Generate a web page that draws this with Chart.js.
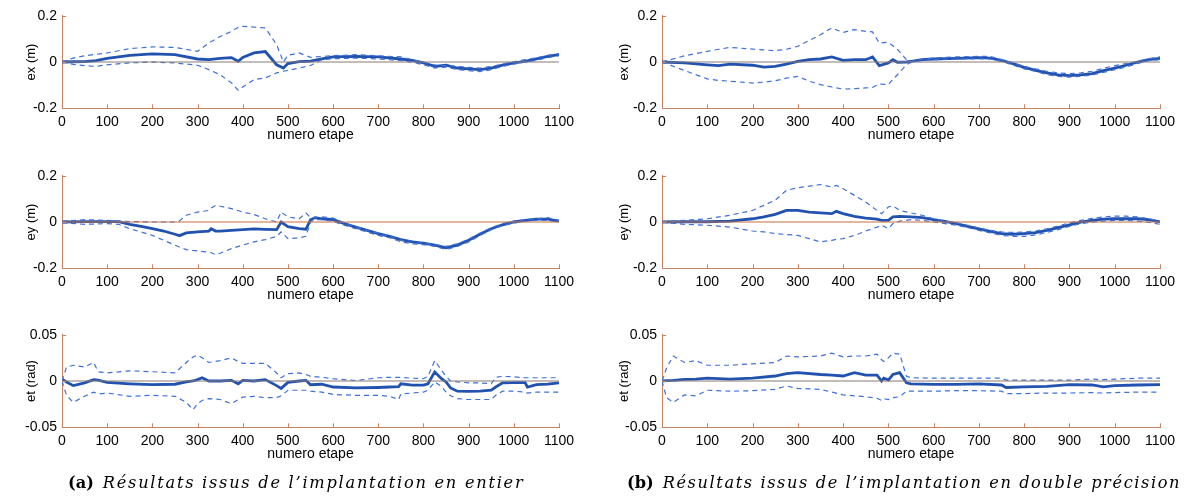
<!DOCTYPE html>
<html>
<head>
<meta charset="utf-8">
<script src="https://cdn.jsdelivr.net/npm/chart.js@4.4.1/dist/chart.umd.min.js"></script>
<style>
  body { margin: 0; background: #fff; width: 1188px; height: 497px; position: relative; overflow: hidden; }
  canvas { position: absolute; }
  .caption { position: absolute; top: 473px; font-family: "DejaVu Serif", "Liberation Serif", serif; font-size: 16.2px; color: #000; white-space: nowrap; }
  .caption b { font-style: normal; font-weight: bold; margin-right: 9px; }
  .caption i { letter-spacing: 1.75px; }
  #cap_b i { letter-spacing: 1.6px; }
</style>
</head>
<body>
<canvas id="a_ex" width="594" height="160" style="left:0;top:0"></canvas>
<canvas id="a_ey" width="594" height="160" style="left:0;top:160px"></canvas>
<canvas id="a_et" width="594" height="160" style="left:0;top:319px"></canvas>
<canvas id="b_ex" width="594" height="160" style="left:594px;top:0"></canvas>
<canvas id="b_ey" width="594" height="160" style="left:594px;top:160px"></canvas>
<canvas id="b_et" width="594" height="160" style="left:594px;top:319px"></canvas>
<div class="caption" style="left:68px"><b>(a)</b><i>Résultats issus de l’implantation en entier</i></div>
<div class="caption" id="cap_b" style="left:627px"><b>(b)</b><i>Résultats issus de l’implantation en double précision</i></div>

<script>
// ---- (a) implantation en entier ----
const a_ex_steps = [0,25,50,75,100,150,200,250,300,325,350,375,390,400,425,450,475,490,500,525,550,575,600,650,700,750,775,800,825,850,875,900,925,950,975,1000,1025,1050,1075,1100];
const a_ex_est = [0,0.001,0.002,0.006,0.016,0.029,0.035,0.032,0.013,0.01,0.016,0.019,0.003,0.02,0.039,0.045,-0.012,-0.026,-0.007,0.002,0.004,0.014,0.022,0.024,0.022,0.013,0.007,-0.004,-0.019,-0.014,-0.026,-0.03,-0.033,-0.026,-0.014,-0.004,0.003,0.013,0.024,0.032];
const a_ex_hi = [0,0.017,0.027,0.033,0.039,0.058,0.065,0.063,0.046,0.082,0.11,0.132,0.15,0.154,0.151,0.147,0.075,0,0.029,0.039,0.02,0.024,0.027,0.032,0.027,0.022,0.01,-0.001,-0.013,-0.015,-0.019,-0.023,-0.026,-0.019,-0.009,0.001,0.01,0.018,0.029,0.036];
const a_ex_lo = [0,-0.01,-0.016,-0.019,-0.012,-0.004,0,-0.004,-0.014,-0.033,-0.055,-0.09,-0.122,-0.108,-0.076,-0.069,-0.047,-0.04,-0.036,-0.026,-0.015,0.01,0.014,0.017,0.013,0.006,-0.001,-0.012,-0.026,-0.022,-0.033,-0.037,-0.042,-0.033,-0.019,-0.009,0,0.007,0.019,0.027];

const a_ey_steps = [0,50,100,125,150,175,200,225,250,260,275,300,325,330,340,350,375,400,425,450,475,485,500,525,540,550,560,575,600,625,650,675,700,725,750,775,800,825,850,875,900,925,950,975,1000,1025,1050,1075,1100];
const a_ey_est = [0,0.002,0.002,0.002,-0.01,-0.019,-0.029,-0.039,-0.053,-0.059,-0.047,-0.043,-0.04,-0.029,-0.039,-0.039,-0.036,-0.033,-0.03,-0.032,-0.033,0,-0.02,-0.029,-0.031,0.01,0.019,0.014,0.01,-0.007,-0.022,-0.036,-0.05,-0.062,-0.076,-0.086,-0.091,-0.1,-0.112,-0.1,-0.079,-0.053,-0.029,-0.012,0,0.007,0.012,0.012,0.004];
const a_ey_hi = [0.003,0.01,0.007,0.004,0.002,0.001,0,0,0,0.005,0.029,0.043,0.05,0.06,0.072,0.068,0.058,0.043,0.032,0.014,0,0.043,0.022,0.014,0.039,0.019,0.02,0.022,0.017,-0.004,-0.022,-0.036,-0.048,-0.062,-0.079,-0.082,-0.091,-0.098,-0.105,-0.094,-0.074,-0.048,-0.025,-0.007,0.004,0.01,0.014,0.019,0.007];
const a_ey_lo = [-0.003,-0.01,-0.007,-0.01,-0.029,-0.043,-0.058,-0.079,-0.1,-0.108,-0.119,-0.125,-0.13,-0.133,-0.141,-0.135,-0.115,-0.1,-0.086,-0.076,-0.062,-0.043,-0.072,-0.068,-0.062,0,0.01,0.01,0.003,-0.014,-0.029,-0.043,-0.058,-0.068,-0.086,-0.094,-0.098,-0.105,-0.119,-0.105,-0.086,-0.059,-0.033,-0.016,-0.004,0.003,0.007,0.007,-0.001];

const a_et_steps = [0,10,25,50,70,80,100,150,200,250,275,290,300,310,325,350,375,390,400,425,450,475,485,500,525,540,550,575,600,650,700,725,745,750,775,800,810,825,840,850,860,875,900,925,950,960,975,1000,1025,1030,1050,1075,1100];
const a_et_est = [0.002,-0.001,-0.005,-0.002,0.0015,0.001,-0.0015,-0.003,-0.004,-0.0035,-0.001,0,0.0015,0.0035,0,0,0.0007,-0.003,0.0007,0,0.0015,-0.005,-0.008,-0.0015,0,0.0007,-0.004,-0.0035,-0.0065,-0.0075,-0.007,-0.0065,-0.006,-0.003,-0.0045,-0.0045,-0.003,0.0098,0.0025,-0.001,-0.0075,-0.011,-0.0113,-0.011,-0.01,-0.0065,-0.002,-0.0018,-0.0018,-0.0065,-0.004,-0.0033,-0.002];
const a_et_hi = [0,0.015,0.017,0.015,0.02,0.01,0.0087,0.011,0.01,0.0087,0.02,0.026,0.028,0.025,0.02,0.022,0.025,0.021,0.019,0.019,0.019,0.0087,0.0035,0.008,0.0087,0.007,0.005,0.004,0.0025,0.0005,0.0035,0.004,0.004,0.004,0.003,0.0025,0.005,0.022,0.0115,0.005,0,-0.001,-0.002,-0.002,-0.003,0.004,0.005,0.0045,0.0035,0.0035,0.0035,0.0035,0.0035];
const a_et_lo = [0,-0.0155,-0.023,-0.0165,-0.012,-0.014,-0.013,-0.0165,-0.0155,-0.0165,-0.023,-0.031,-0.0245,-0.021,-0.019,-0.02,-0.0245,-0.02,-0.0175,-0.0165,-0.018,-0.018,-0.016,-0.01,-0.01,-0.01,-0.011,-0.012,-0.0145,-0.0155,-0.0155,-0.0165,-0.02,-0.014,-0.013,-0.012,-0.01,-0.001,-0.006,-0.012,-0.016,-0.019,-0.02,-0.02,-0.02,-0.0155,-0.011,-0.011,-0.012,-0.013,-0.012,-0.012,-0.012];

// ---- (b) implantation en double precision ----
const b_ex_steps = [0,50,100,125,150,200,225,250,275,300,325,350,375,400,425,450,465,480,500,510,520,540,550,575,600,650,700,725,750,775,800,825,850,875,900,925,950,975,1000,1025,1050,1075,1100];
const b_ex_est = [0,-0.004,-0.012,-0.016,-0.009,-0.014,-0.022,-0.019,-0.009,0.003,0.01,0.013,0.022,0.007,0.01,0.01,0.022,-0.016,-0.004,0.01,-0.001,0,0.003,0.01,0.013,0.016,0.019,0.017,0.007,-0.007,-0.023,-0.036,-0.047,-0.056,-0.059,-0.056,-0.05,-0.037,-0.026,-0.014,-0.001,0.01,0.016];
const b_ex_hi = [0,0.027,0.046,0.055,0.063,0.056,0.052,0.049,0.055,0.068,0.093,0.118,0.147,0.128,0.14,0.132,0.13,0.082,0.085,0.07,0.055,0.01,0.003,0.013,0.017,0.022,0.024,0.024,0.01,-0.004,-0.019,-0.03,-0.04,-0.047,-0.05,-0.047,-0.04,-0.027,-0.016,-0.007,0.003,0.014,0.022];
const b_ex_lo = [0,-0.037,-0.073,-0.08,-0.083,-0.091,-0.087,-0.081,-0.07,-0.062,-0.083,-0.098,-0.108,-0.117,-0.115,-0.112,-0.11,-0.095,-0.098,-0.075,-0.055,-0.012,-0.002,0.007,0.01,0.013,0.014,0.013,0.003,-0.013,-0.03,-0.04,-0.055,-0.062,-0.065,-0.062,-0.056,-0.045,-0.033,-0.022,-0.007,0.006,0.01];

const b_ey_steps = [0,50,100,150,200,225,250,275,300,325,350,375,385,400,425,450,475,485,500,510,525,550,575,600,625,650,675,700,725,750,775,800,825,850,875,900,925,950,975,1000,1025,1050,1075,1100];
const b_ey_est = [0,0.001,0.001,0.004,0.014,0.022,0.033,0.05,0.05,0.043,0.039,0.036,0.046,0.036,0.024,0.017,0.012,0.007,0.007,0.022,0.024,0.022,0.019,0.01,0.003,-0.007,-0.019,-0.03,-0.04,-0.05,-0.053,-0.05,-0.046,-0.036,-0.024,-0.012,-0.001,0.007,0.012,0.014,0.014,0.014,0.01,0];
const b_ey_hi = [0.001,0.007,0.014,0.029,0.05,0.072,0.094,0.137,0.148,0.155,0.162,0.151,0.158,0.144,0.115,0.086,0.05,0.036,0.065,0.07,0.05,0.039,0.029,0.014,0.004,-0.004,-0.014,-0.026,-0.036,-0.043,-0.045,-0.043,-0.039,-0.029,-0.017,-0.004,0.007,0.016,0.022,0.025,0.025,0.022,0.014,0.004];
const b_ey_lo = [-0.001,-0.01,-0.014,-0.022,-0.039,-0.043,-0.05,-0.054,-0.058,-0.072,-0.086,-0.079,-0.075,-0.072,-0.058,-0.039,-0.022,-0.014,-0.029,-0.007,0.004,0.01,0.007,0,-0.007,-0.014,-0.024,-0.036,-0.047,-0.058,-0.062,-0.062,-0.056,-0.045,-0.033,-0.019,-0.007,-0.001,0.004,0.007,0.007,0.004,-0.001,-0.01];

const b_et_steps = [0,10,25,50,75,100,150,200,250,275,300,350,375,400,425,450,475,485,490,500,510,525,540,550,600,650,700,750,760,800,850,900,950,975,1000,1050,1100];
const b_et_est = [0,0.0005,0.0007,0.0018,0.002,0.003,0.002,0.003,0.0054,0.008,0.009,0.007,0.0064,0.0054,0.009,0.0064,0.0064,0,0.003,0.001,0.007,0.009,-0.002,-0.003,-0.0036,-0.0036,-0.003,-0.0043,-0.007,-0.0064,-0.0057,-0.004,-0.0043,-0.0064,-0.005,-0.0043,-0.004];
const b_et_hi = [0,0.014,0.027,0.02,0.022,0.017,0.017,0.0186,0.02,0.027,0.026,0.027,0.03,0.026,0.027,0.027,0.029,0.023,0.021,0.025,0.03,0.029,0.005,0.0036,0.003,0.003,0.003,0.003,0.001,0.001,0.001,0.001,0.002,0.0015,0.002,0.003,0.003];
const b_et_lo = [0,-0.018,-0.023,-0.015,-0.016,-0.01,-0.011,-0.0105,-0.009,-0.0054,-0.008,-0.009,-0.012,-0.015,-0.016,-0.017,-0.0186,-0.021,-0.019,-0.02,-0.018,-0.017,-0.011,-0.011,-0.011,-0.0105,-0.0105,-0.011,-0.0136,-0.0136,-0.013,-0.013,-0.0125,-0.013,-0.0125,-0.012,-0.012];

const xTicksEnd = 1100;
const posRange = [-0.2, 0.2];
const angRange = [-0.05, 0.05];

// couleurs
const AXIS = '#c9825c';
const EST = '#2152b0';
const BOUND = '#3f70d6';
const ZERO_GRAY = '#8a7b74';
const ZERO_ORANGE = '#c8703e';
const FONT = '"Liberation Sans", Arial, Helvetica, sans-serif';

// petits traits de graduation vers l'interieur (style matlab)
const ticksIn = {
    id: 'ticksIn',
    afterDatasetsDraw(chart) {
        const { ctx, chartArea: a, scales: { x, y } } = chart;
        ctx.save();
        ctx.strokeStyle = AXIS;
        ctx.lineWidth = 1;
        ctx.beginPath();
        x.ticks.forEach(t => {
            const px = Math.round(x.getPixelForValue(t.value)) + 0.5;
            ctx.moveTo(px, a.bottom);
            ctx.lineTo(px, a.bottom - 4);
        });
        y.ticks.forEach(t => {
            const py = Math.round(y.getPixelForValue(t.value)) + 0.5;
            ctx.moveTo(a.left, py);
            ctx.lineTo(a.left + 4, py);
        });
        ctx.stroke();
        ctx.restore();
    }
};

const pts = (steps, vals) => steps.map((s, i) => ({ x: s, y: vals[i] }));
const fmt = v => String(+Number(v).toFixed(3));

function dessiner(id, cfg) {
    const left = cfg.side === 'a' ? 62 : 68;
    const right = cfg.side === 'a' ? 35 : 28;
    const plotH = 92.6;
    const top = 15.7;
    const h = document.getElementById(id).height;

    new Chart(document.getElementById(id), {
        type: 'line',
        data: {
            datasets: [
                { data: [{ x: 0, y: 0 }, { x: xTicksEnd, y: 0 }], borderColor: cfg.zero, borderWidth: 1.2 },
                { data: pts(cfg.steps, cfg.hi), borderColor: BOUND, borderWidth: 1.2, borderDash: [5, 4] },
                { data: pts(cfg.steps, cfg.lo), borderColor: BOUND, borderWidth: 1.2, borderDash: [5, 4] },
                { data: pts(cfg.steps, cfg.est), borderColor: EST, borderWidth: 2.8 }
            ]
        },
        options: {
            responsive: false,
            animation: false,
            events: [],
            elements: { point: { radius: 0 }, line: { tension: 0, fill: false } },
            layout: { padding: { top: top, right: right, left: 0, bottom: 0 } },
            plugins: { legend: { display: false }, tooltip: { enabled: false } },
            scales: {
                x: {
                    type: 'linear', min: 0, max: xTicksEnd,
                    grid: { display: false, drawTicks: false },
                    border: { color: AXIS, width: 1 },
                    ticks: { stepSize: 100, padding: 5, color: '#000', font: { family: FONT, size: 14 }, maxRotation: 0, callback: v => String(v) },
                    title: { display: true, text: 'numero etape', color: '#000', font: { family: FONT, size: 14 }, padding: { top: 0, bottom: 16 } },
                    afterFit: s => { s.height = h - top - plotH; }
                },
                y: {
                    type: 'linear', min: cfg.range[0], max: cfg.range[1],
                    grid: { display: false, drawTicks: false },
                    border: { color: AXIS, width: 1 },
                    ticks: { stepSize: cfg.range[1], padding: 5, color: '#000', font: { family: FONT, size: 14 }, callback: fmt },
                    title: { display: true, text: cfg.label, color: '#000', font: { family: FONT, size: 13 }, padding: { top: cfg.side === 'a' ? 24 : 23, bottom: 0 } },
                    afterFit: s => { s.width = left; }
                }
            }
        },
        plugins: [ticksIn]
    });
}

dessiner('a_ex', { side: 'a', steps: a_ex_steps, est: a_ex_est, hi: a_ex_hi, lo: a_ex_lo, range: posRange, label: 'ex (m)', zero: ZERO_GRAY });
dessiner('a_ey', { side: 'a', steps: a_ey_steps, est: a_ey_est, hi: a_ey_hi, lo: a_ey_lo, range: posRange, label: 'ey (m)', zero: ZERO_ORANGE });
dessiner('a_et', { side: 'a', steps: a_et_steps, est: a_et_est, hi: a_et_hi, lo: a_et_lo, range: angRange, label: 'et (rad)', zero: ZERO_GRAY });
dessiner('b_ex', { side: 'b', steps: b_ex_steps, est: b_ex_est, hi: b_ex_hi, lo: b_ex_lo, range: posRange, label: 'ex (m)', zero: ZERO_GRAY });
dessiner('b_ey', { side: 'b', steps: b_ey_steps, est: b_ey_est, hi: b_ey_hi, lo: b_ey_lo, range: posRange, label: 'ey (m)', zero: ZERO_ORANGE });
dessiner('b_et', { side: 'b', steps: b_et_steps, est: b_et_est, hi: b_et_hi, lo: b_et_lo, range: angRange, label: 'et (rad)', zero: ZERO_GRAY });
</script>
</body>
</html>
